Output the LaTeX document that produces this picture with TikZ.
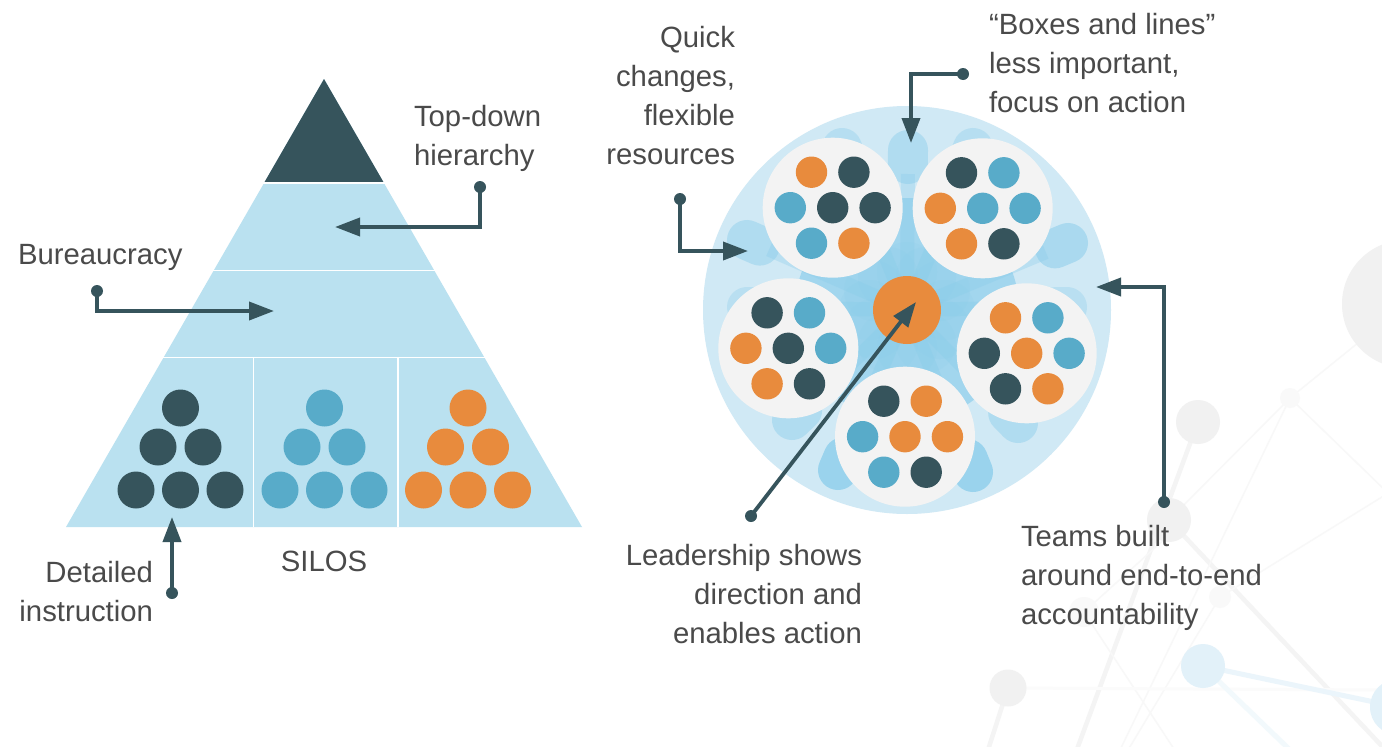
\documentclass[tikz,border=0pt]{standalone}
\usepackage{fontspec}
\setmainfont{Liberation Sans}
\usetikzlibrary{arrows.meta,calc}
\definecolor{ink}{HTML}{36545C}
\definecolor{sky}{HTML}{58ABC9}
\definecolor{amber}{HTML}{E88B3D}
\definecolor{pale}{HTML}{BAE1F0}
\definecolor{disc}{HTML}{D0E9F5}
\definecolor{petal}{HTML}{86CBEA}
\definecolor{team}{HTML}{F3F3F3}
\definecolor{txt}{HTML}{4A4A4A}
\definecolor{netgrey}{HTML}{F1F1F1}
\definecolor{netblue}{HTML}{E2F1F9}
\tikzset{
  lbl/.style={font=\fontsize{29.3}{38.7}\selectfont, text=txt, inner sep=0pt, outer sep=0pt},
  lblL/.style={lbl, align=left, anchor=base west},
  lblR/.style={lbl, align=right, anchor=base east},
  enddot/.style={circle, fill=ink, minimum size=12pt, inner sep=0pt, outer sep=0pt},
  callout/.style={draw=ink, line width=3.8pt, -{Triangle[length=25pt,width=18pt]}},
  thinnet/.style={draw=netgrey!50, line width=1.5pt},
  midnet/.style={draw=netgrey!80, line width=4.5pt},
  bluenet/.style={draw=netblue!70, line width=5pt},
  sep/.style={draw=white, line width=1.4pt}
}
\newcommand{\tdots}[9]{%
  \begin{scope}[shift={(#1,#2)}]
    \fill[team] (0,0) circle (70);
    \fill[#3] (-21.2,-35.5) circle (15.7);
    \fill[#4] (21.2,-35.5) circle (15.7);
    \fill[#5] (-42.4,0) circle (15.7);
    \fill[#6] (0,0) circle (15.7);
    \fill[#7] (42.4,0) circle (15.7);
    \fill[#8] (-21.2,35.5) circle (15.7);
    \fill[#9] (21.2,35.5) circle (15.7);
  \end{scope}}
\newcommand{\silo}[2]{%
  \begin{scope}[shift={(#1,0)}]
    \foreach \px/\py in {0/408, -22.5/447, 22.5/447, -44.5/490, 0/490, 44.5/490}
      \fill[#2] (\px,\py) circle (18.5);
  \end{scope}}
\begin{document}
\begin{tikzpicture}[x=1pt,y=-1pt]
\path[use as bounding box] (0,0) rectangle (1382,747);
\clip (0,0) rectangle (1382,747);
\fill[white] (0,0) rectangle (1382,747);

% background network
\draw[midnet] (1198,422) -- (1073,760);
\draw[midnet] (1169,520) -- (1395,760);
\draw[thinnet] (1169,520) -- (1290,398) -- (1406,304);
\draw[thinnet] (1290,398) -- (1390,495);
\draw[thinnet] (1290,398) -- (1120,750);
\draw[thinnet] (1220,597) -- (1390,492);
\draw[thinnet] (1084,612) -- (1169,535);
\draw[thinnet] (1084,612) -- (1176,752);
\draw[thinnet] (1220,597) -- (1128,750);
\draw[midnet] (1008,688) -- (988,750);
\draw[draw=netgrey!30, line width=3pt] (1008,688) -- (1382,690);
\draw[bluenet] (1203,666) -- (1398,707);
\draw[bluenet, draw=netblue!45] (1203,666) -- (1290,750);
\fill[netgrey] (1406,304) circle (64);
\fill[netgrey] (1198,422) circle (22);
\fill[netgrey] (1169,520) circle (22);
\fill[netgrey!45] (1290,398) circle (10);
\fill[netgrey!40] (1220,597) circle (11);
\fill[netgrey!45] (1084,612) circle (15);
\fill[netgrey] (1008,688) circle (18.5);
\fill[netblue] (1203,666) circle (22);
\fill[netblue] (1398,707) circle (28);

% pyramid
\fill[pale] (324,79) -- (582,527) -- (66,527) -- cycle;
\fill[ink] (324,79) -- (384,183) -- (264,183) -- cycle;
\draw[sep] (250,183) -- (398,183);
\draw[sep] (200,270.5) -- (450,270.5);
\draw[sep] (150,357.5) -- (500,357.5);
\draw[sep] (253.5,357.5) -- (253.5,527);
\draw[sep] (398,357.5) -- (398,527);
\silo{180.5}{ink}
\silo{324.5}{sky}
\silo{468}{amber}

% disc with petals
\fill[disc] (907,310) circle (204);
\fill[petal, opacity=.62] (907,310) circle (112);
\foreach \qx/\qy/\qo in {908/150/.42, 842/148/.35, 973/148/.35, 747/240/.42, 1068/243/.5, 747/307/.3, 1067/307/.3, 792/420/.42, 1018/423/.42, 838/470/.72, 973/472/.72} {
  \draw[petal, opacity=\qo, line width=40pt, line cap=round] (\qx,\qy) -- ($(\qx,\qy)!14pt!(907,310)$);
  \draw[petal, opacity=.3, line width=14pt] ($(\qx,\qy)!24pt!(907,310)$) -- (907,310);
}
\foreach \ra in {0,30,...,330}
  \fill[petal, opacity=.14] (907,310) ++(\ra:38) circle (30);
\tdots{832.7}{207.7}{amber}{ink}{sky}{ink}{ink}{sky}{amber}
\tdots{982.7}{208.3}{ink}{sky}{amber}{sky}{sky}{amber}{ink}
\tdots{788.3}{348.3}{ink}{sky}{amber}{ink}{sky}{amber}{ink}
\tdots{1026.7}{353.3}{amber}{sky}{ink}{amber}{sky}{ink}{amber}
\tdots{905}{436.7}{ink}{amber}{sky}{amber}{amber}{sky}{ink}
\fill[amber] (907,310) circle (34);

% labels
\node[lblL] (tdh) at (414,165) {Top-down\\hierarchy};
\node[lblL] (bur) at (18,264) {Bureaucracy};
\node[lblR] (det) at (153,621) {Detailed\\instruction};
\node[lbl, anchor=base] (sil) at (324,571) {SILOS};
\node[lblR] (qck) at (735,164) {Quick\\changes,\\flexible\\resources};
\node[lblL] (box) at (989,112) {“Boxes and lines”\\less important,\\focus on action};
\node[lblR] (lea) at (862,643) {Leadership shows\\direction and\\enables action};
\node[lblL] (tea) at (1021,624) {Teams built\\around end-to-end\\accountability};

% callouts
\node[enddot] (d1) at (480,187) {};
\coordinate (t1) at (335,227);
\draw[callout] (d1.center) |- (t1);
\node[enddot] (d2) at (97,291) {};
\coordinate (t2) at (274,311);
\draw[callout] (d2.center) |- (t2);
\node[enddot] (d3) at (172,593) {};
\coordinate (t3) at (172,517);
\draw[callout] (d3.center) -- (t3);
\node[enddot] (d4) at (680,199) {};
\coordinate (t4) at (748,251);
\draw[callout] (d4.center) |- (t4);
\node[enddot] (d5) at (963,74) {};
\coordinate (t5) at (911,143);
\draw[callout] (d5.center) -| (t5);
\node[enddot] (d6) at (751,516) {};
\coordinate (t6) at (916,302);
\draw[callout] (d6.center) -- (t6);
\node[enddot] (d7) at (1164,502) {};
\coordinate (t7) at (1096,287);
\draw[callout] (d7.center) |- (t7);
\end{tikzpicture}
\end{document}
